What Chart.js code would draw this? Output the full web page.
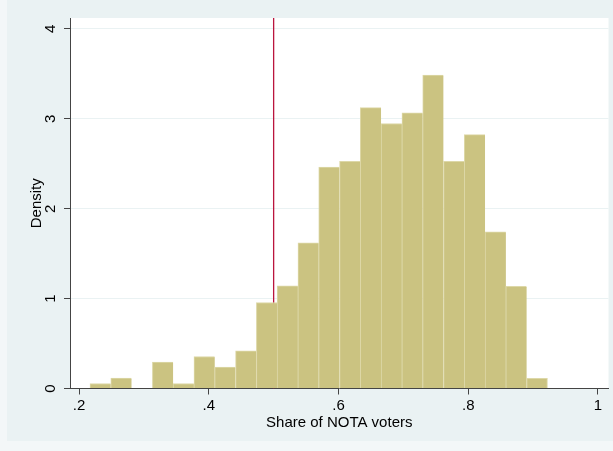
<!DOCTYPE html>
<html>
<head>
<meta charset="utf-8">
<script src="https://cdn.jsdelivr.net/npm/chart.js@4/dist/chart.umd.min.js"></script>
<style>
  html, body { margin: 0; padding: 0; background: #F3F7F8; }
  #wrap { position: absolute; left: 0; top: 0; width: 613px; height: 451px; }
</style>
</head>
<body>
<div id="wrap"><canvas id="chart" width="613" height="451"></canvas></div>
<script>
// histogram bins (centres) and their density
const binCenters = [0.2329, 0.2650, 0.2970, 0.3291, 0.3611, 0.3932, 0.4252, 0.4573, 0.4894, 0.5214, 0.5535,
                    0.5855, 0.6176, 0.6496, 0.6817, 0.7138, 0.7458, 0.7779, 0.8099, 0.8420, 0.8740, 0.9061];
const density = [0.056, 0.116, 0, 0.293, 0.056, 0.356, 0.238, 0.418, 0.957, 1.142, 1.621,
                 2.462, 2.528, 3.125, 2.948, 3.067, 3.488, 2.528, 2.824, 1.743, 1.137, 0.113];
const xTickValues = [0.2, 0.4, 0.6, 0.8, 1];
const yTickValues = [0, 1, 2, 3, 4];
const cutoff = 0.5; // vertical reference line

const xMin = 0.1861, xMax = 1.0162;
const yMax = 4.1217;

const ctx = document.getElementById("chart").getContext("2d");

// fonds : zone graphique bleutée + région de tracé blanche
const backgrounds = {
  id: "backgrounds",
  beforeDraw(chart) {
    const c = chart.ctx;
    const a = chart.chartArea;
    c.save();
    c.fillStyle = "#F3F7F8";
    c.fillRect(0, 0, chart.width, chart.height);
    c.fillStyle = "#EAF2F3";
    c.fillRect(7, 0, chart.width - 7, 441);
    c.fillStyle = "#FFFFFF";
    c.fillRect(a.left, a.top, a.right - a.left, a.bottom - a.top);
    c.restore();
  },
};

function fmtTick(value) {
  const s = String(Math.round(value * 10) / 10);
  return s.replace(/^0\./, ".");
}

new Chart(ctx, {
  type: "bar",
  data: {
    datasets: [
      {
        type: "bar",
        data: binCenters.map((x, i) => ({ x: x, y: density[i] })),
        backgroundColor: "#CBC381",
        borderColor: "#DDD8A8",
        borderWidth: (c) => ({ top: 1, left: 1, right: c.dataIndex === binCenters.length - 1 ? 1 : 0, bottom: 0 }),
        barPercentage: 1,
        categoryPercentage: 1,
        order: 1,
      },
      {
        type: "line",
        data: [{ x: cutoff, y: 0 }, { x: cutoff, y: yMax }],
        borderColor: "#BA153E",
        borderWidth: 1.3,
        pointRadius: 0,
        order: 2,
      },
    ],
  },
  options: {
    responsive: false,
    devicePixelRatio: 1,
    animation: false,
    layout: { padding: { top: 16, right: 4.5, bottom: 0, left: 0 } },
    plugins: {
      legend: { display: false },
      tooltip: { enabled: false },
    },
    scales: {
      x: {
        type: "linear",
        min: xMin,
        max: xMax,
        offset: false,
        afterBuildTicks: (s) => { s.ticks = xTickValues.map((v) => ({ value: v })); },
        grid: { offset: false, drawOnChartArea: false, drawTicks: true, tickLength: 6, tickColor: "#444" },
        border: { color: "#444", width: 1 },
        ticks: {
          padding: 2,
          color: "#000",
          font: { family: "Liberation Sans", size: 15 },
          callback: fmtTick,
        },
        title: {
          display: true,
          text: "Share of NOTA voters",
          color: "#000",
          font: { family: "Liberation Sans", size: 15 },
          padding: { top: 0, bottom: 19.5 },
        },
        afterFit: (s) => { s.height = 62.5; },
      },
      y: {
        type: "linear",
        min: 0,
        max: yMax,
        afterBuildTicks: (s) => { s.ticks = yTickValues.map((v) => ({ value: v })); },
        grid: { color: "#EAF2F3", tickColor: "#444", tickLength: 6, lineWidth: 1 },
        border: { color: "#444", width: 1 },
        ticks: {
          minRotation: 90,
          maxRotation: 90,
          crossAlign: "center",
          padding: 9,
          color: "#000",
          font: { family: "Liberation Sans", size: 15 },
        },
        title: {
          display: true,
          text: "Density",
          color: "#000",
          font: { family: "Liberation Sans", size: 15 },
          padding: { top: 27.5, bottom: 0 },
        },
        afterFit: (s) => { s.width = 70; },
      },
    },
  },
  plugins: [backgrounds],
});
</script>
</body>
</html>
